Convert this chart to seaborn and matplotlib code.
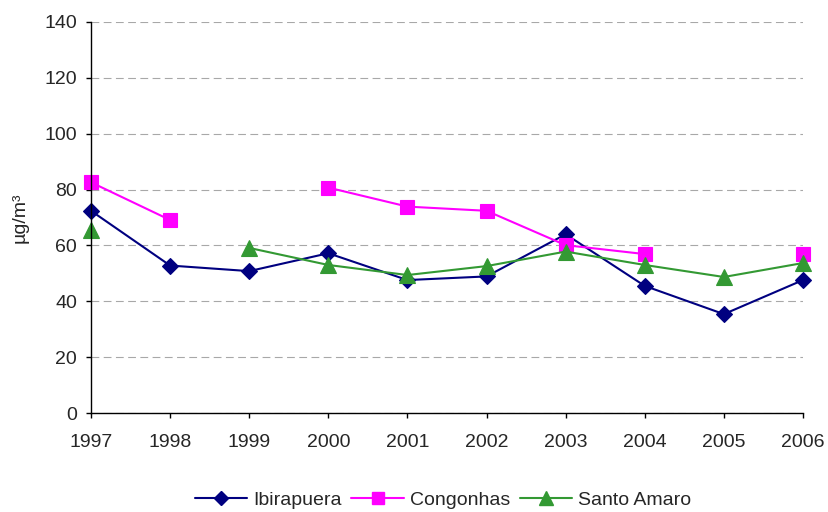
import numpy as np
import pandas as pd
import matplotlib
matplotlib.use("Agg")
import matplotlib.pyplot as plt
import seaborn as sns

years = [1997, 1998, 1999, 2000, 2001, 2002, 2003, 2004, 2005, 2006]
ibirapuera = [72.4, 52.8, 50.8, 57.2, 47.6, 48.9, 64.0, 45.5, 35.4, 47.6]
congonhas = [82.6, 69.1, np.nan, 80.7, 73.9, 72.4, 60.1, 56.9, np.nan, 56.9]
santo_amaro = [65.4, np.nan, 59.1, 53.0, 49.4, 52.6, 57.8, 53.0, 48.7, 53.7]

stations = ["Ibirapuera", "Congonhas", "Santo Amaro"]
series = [ibirapuera, congonhas, santo_amaro]
colors = {"Ibirapuera": "#000080", "Congonhas": "#FF00FF", "Santo Amaro": "#339933"}
markers = {"Ibirapuera": "D", "Congonhas": "s", "Santo Amaro": "^"}
msizes = {"Ibirapuera": 8.5, "Congonhas": 9.5, "Santo Amaro": 11}

# long-form table; consecutive non-missing years share a segment id so gaps stay open
rows = []
for name, vals in zip(stations, series):
    seg = 0
    for y, v in zip(years, vals):
        if np.isnan(v):
            seg += 1
            continue
        rows.append({"year": y, "value": v, "station": name, "segment": f"{name}-{seg}"})
df = pd.DataFrame(rows)

sns.set_style("white")
plt.rcParams["font.family"] = ["Liberation Sans", "DejaVu Sans"]

fig = plt.figure(figsize=(8.29, 5.12), dpi=100)
ax = fig.add_axes([91 / 829, 1 - 413 / 512, (803 - 91) / 829, (413 - 22) / 512])

for name in stations:
    sub = df[df["station"] == name]
    sns.lineplot(data=sub, x="year", y="value", units="segment", estimator=None,
                 color=colors[name], marker=markers[name], markersize=msizes[name],
                 markeredgecolor=colors[name], markeredgewidth=0.8, linewidth=1.5,
                 ax=ax, legend=False)

# let the end markers sit over the axis edges
for line in ax.lines:
    line.set_clip_on(False)

ax.set_xlim(1997, 2006)
ax.set_ylim(0, 140)
ax.set_xticks(years)
ax.set_yticks(range(0, 141, 20))
ax.yaxis.grid(True, linestyle=(0, (7, 4)), color="#a8a8a8", linewidth=0.8)
ax.set_axisbelow(True)
for side in ("top", "right"):
    ax.spines[side].set_visible(False)
for side in ("left", "bottom"):
    ax.spines[side].set_color("black")
    ax.spines[side].set_linewidth(1.0)
ax.tick_params(axis="both", direction="out", length=3.5, width=1, color="black",
               labelsize=14, left=True, bottom=True)
ax.tick_params(axis="x", pad=11.5)
ax.tick_params(axis="y", pad=6.5)
ax.set_xlabel("")
ax.set_ylabel("µg/m³", fontsize=14, labelpad=11)

handles = [plt.Line2D([], [], color=colors[s], marker=markers[s], markersize=msizes[s] - 1,
                      linewidth=1.5, markeredgecolor=colors[s]) for s in stations]
fig.legend(handles, stations, loc="center", bbox_to_anchor=(443 / 829, 1 - 500 / 512),
           ncol=3, frameon=False, fontsize=14, handlelength=2.7, columnspacing=0.5,
           handletextpad=0.3)

fig.savefig("out.png", dpi=100)
